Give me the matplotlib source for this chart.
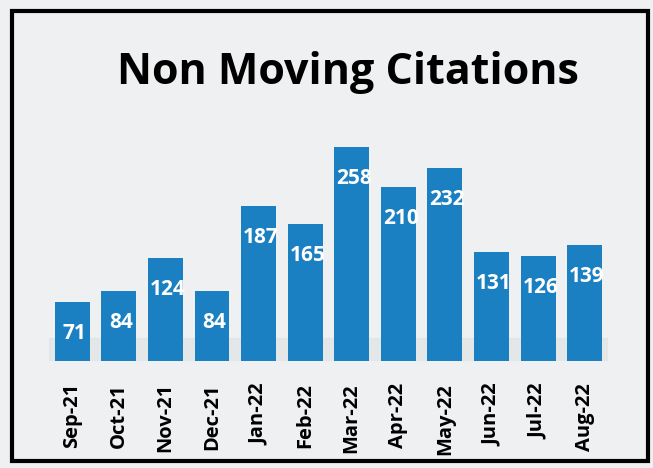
import numpy as np
import matplotlib
matplotlib.use("Agg")
import matplotlib.pyplot as plt
from matplotlib.patches import Rectangle

months = ["Sep-21", "Oct-21", "Nov-21", "Dec-21", "Jan-22", "Feb-22",
          "Mar-22", "Apr-22", "May-22", "Jun-22", "Jul-22", "Aug-22"]
citations = [71, 84, 124, 84, 187, 165, 258, 210, 232, 131, 126, 139]

bar_color = "#1b80c2"
bg_color = "#eef0f1"

fig = plt.figure(figsize=(6.53, 4.68), dpi=100)
fig.patch.set_facecolor(bg_color)

# black frame round the whole chart
fig.patches.append(Rectangle((12 / 653, 7 / 468), 636 / 653, 450 / 468,
                             transform=fig.transFigure, fill=False,
                             edgecolor="black", linewidth=3))

ax = fig.add_axes([0.075, 0.229, 0.856, 0.4966])
ax.set_facecolor(bg_color)

x = np.arange(len(months))
# faint floor shadow behind the bars
ax.axhspan(0, 28, color="#dcdfdf", alpha=0.5, zorder=0)
ax.bar(x, citations, width=0.75, color=bar_color, zorder=2)

vals = np.array(citations)
label_y = np.minimum(vals - 38, 242)
for xi, v, ly in zip(x, vals, label_y):
    ax.text(xi + 0.05, ly, str(v), ha="center", va="center", color="white",
            fontsize=15, fontweight="bold", family="Open Sans", zorder=3)

ax.set_xlim(-0.5, len(months) - 0.5)
ax.set_ylim(0, 280)
ax.set_xticks(x)
ax.set_xticklabels(months, rotation=90, fontsize=14.5, fontweight="bold",
                   family="Open Sans")
ax.tick_params(axis="x", length=0, pad=16)
ax.set_yticks([])
for s in ax.spines.values():
    s.set_visible(False)

fig.text(0.533, 0.845, "Non Moving Citations", ha="center", va="center",
         fontsize=31, fontweight="bold", family="Open Sans")

fig.savefig("out.png", dpi=100, facecolor=fig.get_facecolor())
